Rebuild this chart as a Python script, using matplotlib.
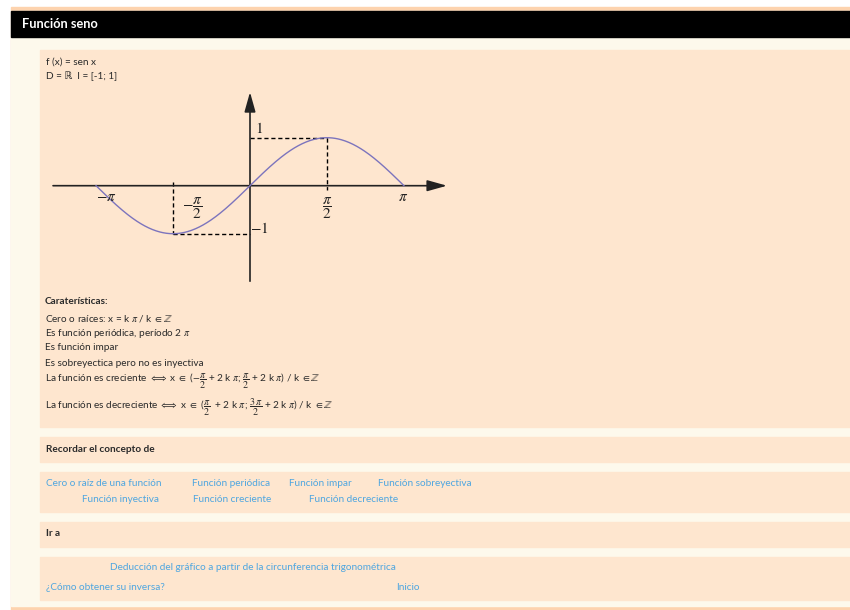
import numpy as np
import matplotlib.pyplot as plt
from matplotlib.patches import Rectangle

plt.rcParams['mathtext.fontset'] = 'stix'
plt.rcParams['font.family'] = ['Lato', 'DejaVu Sans']

# datos del grafico
x_ticks = [-np.pi, -np.pi / 2, np.pi / 2, np.pi]
x_labels = [r'$-\pi$', r'$-\dfrac{\pi}{2}$', r'$\dfrac{\pi}{2}$', r'$\pi$']
y_ticks = [1, -1]
y_labels = [r'$1$', r'$-1$']
x_max = [np.pi / 2]
x_min = [-np.pi / 2]

# textos de la pagina
titulo = "Función seno"
lineas_def = ["f (x) = sen x", "D = ℝ  I = [-1; 1]"]
caracteristicas = [
    "Caraterísticas:",
    r"Cero o raíces: x = k $\pi$ / k $\in \mathbb{Z}$",
    r"Es función periódica, período 2 $\pi$",
    "Es función impar",
    "Es sobreyectica pero no es inyectiva",
    r"La función es creciente $\Longleftrightarrow$ x $\in$ ($-\dfrac{\pi}{2}$ + 2 k $\pi$; $\dfrac{\pi}{2}$ + 2 k $\pi$) / k $\in \mathbb{Z}$",
    r"La función es decreciente $\Longleftrightarrow$ x $\in$ ($\dfrac{\pi}{2}$  + 2 k $\pi$; $\dfrac{3\,\pi}{2}$ + 2 k $\pi$) / k $\in \mathbb{Z}$",
]
links_1 = ["Cero o raíz de una función", "Función periódica", "Función impar", "Función sobreyectiva"]
links_2 = ["Función inyectiva", "Función creciente", "Función decreciente"]
links_ir = ["Deducción del gráfico a partir de la circunferencia trigonométrica",
            "¿Cómo obtener su inversa?", "Inicio"]

W, H = 850, 610
PEACH = '#fee6cf'
CREAM = '#fdf9ec'
LINK = '#4ea6e0'
TXT = '#2a2a2a'
FS = 7.2

fig = plt.figure(figsize=(W / 100, H / 100), dpi=100)
fig.patch.set_facecolor('white')

bg = fig.add_axes([0, 0, 1, 1])
bg.set_xlim(0, W)
bg.set_ylim(H, 0)
bg.axis('off')

# fondo y paneles
bg.add_patch(Rectangle((11, 7), W - 11, 603, color='#fdd3ae'))
bg.add_patch(Rectangle((11, 11), W - 11, 595, color=CREAM))
bg.add_patch(Rectangle((11, 11), W - 11, 26, color='black'))
for top, bot in [(50, 427), (437, 462), (472, 512), (522, 547), (557, 600)]:
    bg.add_patch(Rectangle((40, top), W - 40, bot - top, color=PEACH))

bg.text(22, 24.5, titulo, color='white', fontsize=9.2, fontweight='bold', va='center')

for i, t in enumerate(lineas_def):
    bg.text(46, 62 + i * 14, t, color=TXT, fontsize=FS, va='center')

ys = [302, 318, 333, 348, 363, 381, 407]
for i, (t, y) in enumerate(zip(caracteristicas, ys)):
    bg.text(45, y, t, color=TXT, fontsize=FS, va='center',
            fontweight='bold' if i == 0 else 'normal')

bg.text(46, 449, "Recordar el concepto de", color=TXT, fontsize=FS, fontweight='bold', va='center')
for t, x in zip(links_1, [46, 192, 289, 378]):
    bg.text(x, 484, t, color=LINK, fontsize=FS, va='center')
for t, x in zip(links_2, [82, 193, 309]):
    bg.text(x, 499, t, color=LINK, fontsize=FS, va='center')

bg.text(46, 534, "Ir a", color=TXT, fontsize=FS, fontweight='bold', va='center')
for t, x, y in zip(links_ir, [110, 46, 396], [568, 587, 587]):
    bg.text(x, y, t, color=LINK, fontsize=FS, va='center')

# grafico de la funcion
ux, uy = 49.0, 48.0
ox, oy = 250, 185.7
xl, xr = -4.1, 4.1
yb, yt = -2.1, 2.05
left = ox + xl * ux
bottom = oy - yb * uy
ax = fig.add_axes([left / W, 1 - bottom / H, (xr - xl) * ux / W, (yt - yb) * uy / H])
ax.set_xlim(xl, xr)
ax.set_ylim(yb, yt)
ax.axis('off')
ax.patch.set_alpha(0)

arrow = dict(arrowstyle='-|>,head_length=1.0,head_width=0.28', mutation_scale=12,
             lw=1.2, color='#222222', shrinkA=0, shrinkB=0)
ax.annotate('', xy=(4.02, 0), xytext=(-4.02, 0), arrowprops=arrow)
ax.annotate('', xy=(0, 1.95), xytext=(0, -1.99), arrowprops=arrow)

xs = np.linspace(-np.pi, np.pi, 400)
ax.plot(xs, np.sin(xs), color='#7c74bd', lw=1.0, zorder=3)

for xm in x_max:
    ax.plot([0, xm], [1, 1], ls='--', color='black', lw=1.0, dashes=(3, 2))
    ax.plot([xm, xm], [1, -0.08], ls='--', color='black', lw=1.0, dashes=(3, 2))
for xm in x_min:
    ax.plot([xm, 0], [-1, -1], ls='--', color='black', lw=1.0, dashes=(3, 2))
    ax.plot([xm, xm], [0.08, -1], ls='--', color='black', lw=1.0, dashes=(3, 2))

lab_pos = [(-2.94, -0.24), (-1.18, -0.47), (1.57, -0.47), (3.12, -0.24)]
for (px, py), lab in zip(lab_pos, x_labels):
    ax.text(px, py, lab, fontsize=11, ha='center', va='center', color='#222222')
ax.text(0.1, 1.2, y_labels[0], fontsize=11, ha='left', va='center', color='#222222')
ax.text(0.0, -0.9, y_labels[1], fontsize=11, ha='left', va='center', color='#222222')

fig.savefig('out.png', dpi=100)
